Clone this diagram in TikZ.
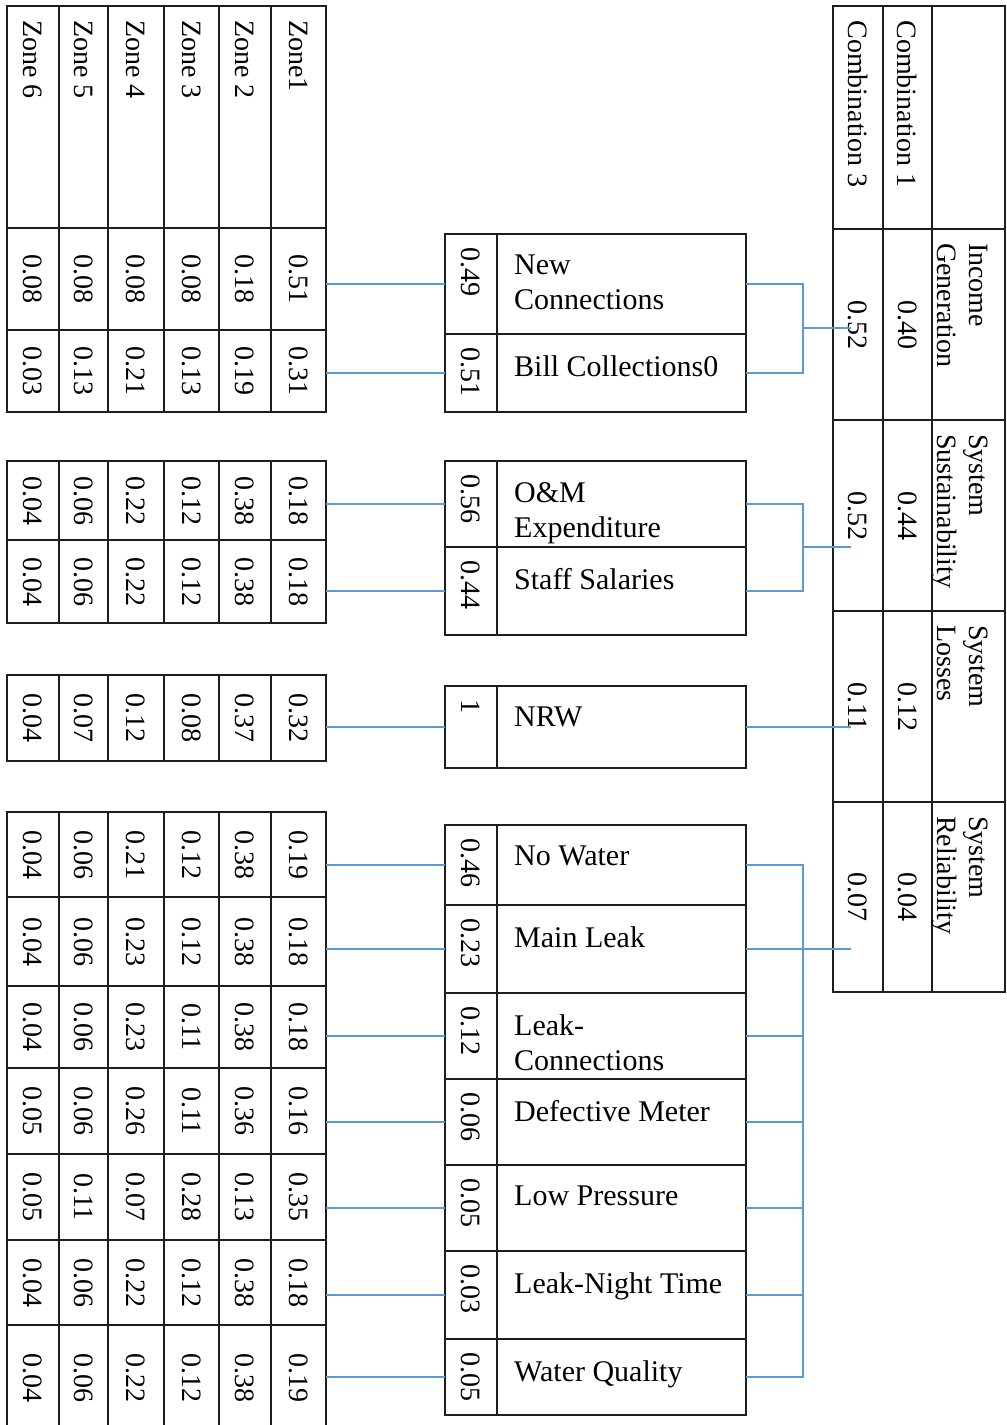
\documentclass[tikz,border=0pt]{standalone}
\usepackage{fontspec}
\setmainfont{Liberation Serif}
\usepackage{graphicx}
\usepackage{xcolor}
\usepackage{tikz}
\usetikzlibrary{positioning}
\definecolor{linkblue}{RGB}{91,155,213}
\definecolor{gridblack}{RGB}{30,30,30}
\newcommand{\headtext}[1]{\makebox[194pt][l]{#1}}
\newcommand{\zonerow}[9]{%
  \node[zcell, minimum width=55, minimum height=#3] (#1-1) at (298.5,#2+#3/2) {\rotatebox{-90}{#4}};
  \node[zcell, minimum width=52, minimum height=#3, left=0pt of #1-1] (#1-2) {\rotatebox{-90}{#5}};
  \node[zcell, minimum width=55, minimum height=#3, left=0pt of #1-2] (#1-3) {\rotatebox{-90}{#6}};
  \node[zcell, minimum width=56, minimum height=#3, left=0pt of #1-3] (#1-4) {\rotatebox{-90}{#7}};
  \node[zcell, minimum width=49, minimum height=#3, left=0pt of #1-4] (#1-5) {\rotatebox{-90}{#8}};
  \node[zcell, minimum width=52, minimum height=#3, left=0pt of #1-5] (#1-6) {\rotatebox{-90}{#9}};}
\newcommand{\critrow}[5]{%
  \node[wcell, minimum height=#3] (#1-w) at (471,#2+#3/2) {};
  \node[lcell, minimum height=#3, right=0pt of #1-w] (#1) {};
  \node[wnum] (#1-n) at ([yshift=-13pt]#1-w.north) {#4};
  \node[ltext] (#1-t) at ([xshift=17pt,yshift=-21pt]#1.north west) {#5};}
\newcommand{\goalrow}[6]{%
  \node[zcell, minimum width=73, minimum height=#3] (#1) at (968.5,#2+#3/2) {};
  \node[zcell, minimum width=49, minimum height=#3, left=0pt of #1] (#1-c1) {\rotatebox{-90}{#5}};
  \node[zcell, minimum width=50, minimum height=#3, left=0pt of #1-c1] (#1-c3) {\rotatebox{-90}{#6}};
  \node[gtext] (#1-t) at ([xshift=-17pt,yshift=-14pt]#1.north east) {#4};}

\begin{document}
\begin{tikzpicture}[
  x=1pt, y=-1pt,
  zcell/.style={rectangle, draw=gridblack, line width=1.5pt,
    inner sep=0pt, outer sep=0pt,
    font=\fontsize{28}{32}\selectfont},
  wcell/.style={zcell, minimum width=52},
  lcell/.style={zcell, minimum width=249},
  wnum/.style={rotate=-90, anchor=west, inner sep=0pt,
    font=\fontsize{28}{32}\selectfont},
  ltext/.style={anchor=north west, align=left, inner sep=0pt,
    font=\fontsize{30}{35}\selectfont},
  gtext/.style={rotate=-90, anchor=north west, align=left,
    inner sep=0pt, font=\fontsize{28}{32}\selectfont},
  link/.style={draw=linkblue, line width=1.8pt}
]
\path[use as bounding box, fill=white] (0,0) rectangle (1007,1425);

% zone tables
\zonerow{zh}{6}{222}{\headtext{Zone1}}{\headtext{Zone 2}}{\headtext{Zone 3}}{\headtext{Zone 4}}{\headtext{Zone 5}}{\headtext{Zone 6}}
\zonerow{znc}{228}{102}{0.51}{0.18}{0.08}{0.08}{0.08}{0.08}
\zonerow{zbc}{330}{82}{0.31}{0.19}{0.13}{0.21}{0.13}{0.03}
\zonerow{zom}{461}{79}{0.18}{0.38}{0.12}{0.22}{0.06}{0.04}
\zonerow{zss}{540}{83}{0.18}{0.38}{0.12}{0.22}{0.06}{0.04}
\zonerow{znrw}{675}{86}{0.32}{0.37}{0.08}{0.12}{0.07}{0.04}
\zonerow{znw}{812}{85}{0.19}{0.38}{0.12}{0.21}{0.06}{0.04}
\zonerow{zml}{897}{89}{0.18}{0.38}{0.12}{0.23}{0.06}{0.04}
\zonerow{zlc}{986}{82}{0.18}{0.38}{0.11}{0.23}{0.06}{0.04}
\zonerow{zdm}{1068}{86}{0.16}{0.36}{0.11}{0.26}{0.06}{0.05}
\zonerow{zlp}{1154}{86}{0.35}{0.13}{0.28}{0.07}{0.11}{0.05}
\zonerow{zlnt}{1240}{85}{0.18}{0.38}{0.12}{0.22}{0.06}{0.04}
\zonerow{zwq}{1325}{105}{0.19}{0.38}{0.12}{0.22}{0.06}{0.04}

% sub-criteria with weights
\critrow{nc}{234}{100}{0.49}{New\\Connections}
\critrow{bc}{334}{78}{0.51}{Bill Collections0}
\critrow{om}{461}{86}{0.56}{O\&M\\Expenditure}
\critrow{ss}{547}{88}{0.44}{Staff Salaries}
\critrow{nrw}{686}{82}{1}{NRW}
\critrow{nw}{825}{80}{0.46}{No Water}
\critrow{ml}{905}{88}{0.23}{Main Leak}
\critrow{lc}{993}{86}{0.12}{Leak-\\Connections}
\critrow{dm}{1079}{86}{0.06}{Defective Meter}
\critrow{lp}{1165}{86}{0.05}{Low Pressure}
\critrow{lnt}{1251}{88}{0.03}{Leak-Night Time}
\critrow{wq}{1339}{76}{0.05}{Water Quality}

% goals table
\node[zcell, minimum width=73, minimum height=223] (gh) at (968.5,117.5) {};
\node[zcell, minimum width=49, minimum height=223, left=0pt of gh] (gh-c1)
  {\rotatebox{-90}{\headtext{Combination 1}}};
\node[zcell, minimum width=50, minimum height=223, left=0pt of gh-c1] (gh-c3)
  {\rotatebox{-90}{\headtext{Combination 3}}};
\goalrow{ig}{229}{191}{Income\\Generation}{0.40}{0.52}
\goalrow{gs}{420}{191}{System\\Sustainability}{0.44}{0.52}
\goalrow{sl}{611}{191}{System\\Losses}{0.12}{0.11}
\goalrow{sr}{802}{190}{System\\Reliability}{0.04}{0.07}

% links
\foreach \n in {nc,bc,om,ss,nrw,nw,ml,lc,dm,lp,lnt,wq}
  \draw[link] (z\n-1.east |- \n-w.west) -- (\n-w.west);

\coordinate (j1) at (803,328);
\coordinate (e1) at (851,328);
\coordinate (j2) at (803,547);
\coordinate (e2) at (851,547);
\coordinate (e3) at (851,727);
\coordinate (j4) at (803,949);
\coordinate (e4) at (851,949);

\draw[link] (nc.east) -| (j1) |- (bc.east);
\draw[link] (j1) -- (e1);
\draw[link] (om.east) -| (j2) |- (ss.east);
\draw[link] (j2) -- (e2);
\draw[link] (nrw.east) -- (e3);
\draw[link] (nw.east) -| (j4) |- (wq.east);
\foreach \n in {lc,dm,lp,lnt}
  \draw[link] (\n.east) -- (\n.east -| j4);
\draw[link] (ml.east) -- (e4);
\end{tikzpicture}
\end{document}
